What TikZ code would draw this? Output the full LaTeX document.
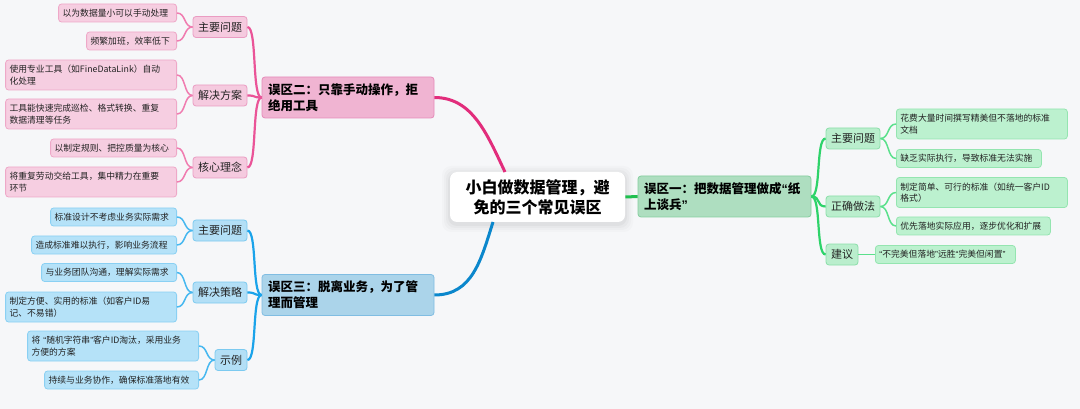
\documentclass[tikz,border=0pt]{standalone}
\usepackage{fontspec}
\setmainfont{Noto Sans CJK SC}
\newfontfamily\qfont{Liberation Sans}
\newcommand\myqo{{\qfont “}}
\newcommand\myqc{{\qfont ”}}
\definecolor{bgc}{HTML}{F6F7F9}
\definecolor{txt}{HTML}{222222}
% pink
\definecolor{pline}{HTML}{E22D7C}
\definecolor{pline2}{HTML}{EA5498}
\definecolor{pline3}{HTML}{F07CB0}
\definecolor{pmfill}{HTML}{F0B4D2}
\definecolor{pmdraw}{HTML}{E58BB9}
\definecolor{psfill}{HTML}{F5CADF}
\definecolor{psdraw}{HTML}{EA9CC2}
\definecolor{plfill}{HTML}{F6CEE1}
\definecolor{pldraw}{HTML}{EEA8C8}
% blue
\definecolor{bline}{HTML}{0B87CC}
\definecolor{bline2}{HTML}{1AA3EA}
\definecolor{bline3}{HTML}{47B8F0}
\definecolor{bmfill}{HTML}{ABD4EA}
\definecolor{bmdraw}{HTML}{80BDE2}
\definecolor{bsfill}{HTML}{B3DFF6}
\definecolor{bsdraw}{HTML}{7CCAF0}
\definecolor{blfill}{HTML}{B5E2F8}
\definecolor{bldraw}{HTML}{8AD0F3}
% green
\definecolor{gline}{HTML}{1FBF4F}
\definecolor{gline2}{HTML}{2ED36A}
\definecolor{gline3}{HTML}{5BE08C}
\definecolor{gmfill}{HTML}{AEDEC0}
\definecolor{gmdraw}{HTML}{84CE9E}
\definecolor{gsfill}{HTML}{BAEECD}
\definecolor{gsdraw}{HTML}{8ADFA9}
\definecolor{glfill}{HTML}{BCF1CF}
\definecolor{gldraw}{HTML}{94E5B0}
\tikzset{
  box/.style={rectangle, rounded corners=3pt, line width=0.8pt, text=txt, inner sep=0pt},
  centerbox/.style={box, fill=white, rounded corners=7pt, draw=none, minimum width=175pt, minimum height=50pt,
     font=\fontsize{16}{20}\selectfont\bfseries, align=center, text=black},
  mainbox/.style={box, minimum height=41pt, font=\fontsize{12.5}{16}\selectfont\bfseries, align=left, text=black},
  subbox/.style={box, minimum height=21pt, font=\fontsize{11}{13}\selectfont, align=center},
  leafbox/.style={box, minimum height=18pt, font=\fontsize{8.8}{11.5}\selectfont, align=left, text=txt},
  pm/.style={mainbox, fill=pmfill, draw=pmdraw},
  ps/.style={subbox, fill=psfill, draw=psdraw},
  pl/.style={leafbox, fill=plfill, draw=pldraw},
  bm/.style={mainbox, fill=bmfill, draw=bmdraw},
  bs/.style={subbox, fill=bsfill, draw=bsdraw},
  bl/.style={leafbox, fill=blfill, draw=bldraw},
  gm/.style={mainbox, fill=gmfill, draw=gmdraw},
  gs/.style={subbox, fill=gsfill, draw=gsdraw},
  gl/.style={leafbox, fill=glfill, draw=gldraw},
  c1/.style={line width=3pt},
  c2/.style={line width=2.2pt},
  c3/.style={line width=1.5pt},
}
\begin{document}
\begin{tikzpicture}[x=1pt,y=-1pt]
\useasboundingbox (0,0) rectangle (1080,409);
\fill[bgc] (0,0) rectangle (1080,409);
% soft shadow under the centre box
\foreach \i/\o in {8/0.015,6/0.02,4/0.025,2/0.03}{
  \fill[black,opacity=\o,rounded corners=9pt] (450-\i,172-\i+2) rectangle (625+\i,222+\i+2);
}
% centre
\node[centerbox] (c) at (537.5,197) {小白做数据管理，避\\免的三个常见误区};
\coordinate (cp) at (505,172);
\coordinate (cb) at (493,222);

% main branches
\node[pm, minimum width=172pt, text width=160pt] (pmain) at (348,97.5) {误区二：只靠手动操作，拒\\绝用工具};
\node[bm, minimum width=172pt, text width=160pt] (bmain) at (348,295) {误区三：脱离业务，为了管\\理而管理};
\node[gm, minimum width=173pt, text width=161pt] (gmain) at (724.5,196.5) {误区一：把数据管理做成\myqo 纸\\上谈兵\myqc};

% pink subs
\node[ps, minimum width=54pt] (p1) at (220,27) {主要问题};
\node[ps, minimum width=54pt] (p2) at (220,95.5) {解决方案};
\node[ps, minimum width=54pt] (p3) at (220,167.5) {核心理念};
% pink leaves
\node[pl, anchor=east, minimum width=118pt, text width=110pt] (p1a) at (177,13) {以为数据量小可以手动处理};
\node[pl, anchor=east, minimum width=90pt, text width=82pt] (p1b) at (177,41) {频繁加班，效率低下};
\node[pl, anchor=east, minimum width=171pt, minimum height=30pt, text width=163pt] (p2a) at (177,75) {使用专业工具（如FineDataLink）自动\\化处理};
\node[pl, anchor=east, minimum width=171pt, minimum height=30pt, text width=163pt] (p2b) at (177,114) {工具能快速完成巡检、格式转换、重复\\数据清理等任务};
\node[pl, anchor=east, minimum width=126pt, text width=118pt] (p3a) at (177,148) {以制定规则、把控质量为核心};
\node[pl, anchor=east, minimum width=171pt, minimum height=30pt, text width=163pt] (p3b) at (177,182) {将重复劳动交给工具，集中精力在重要\\环节};

% blue subs
\node[bs, minimum width=54pt] (b1) at (220,230.5) {主要问题};
\node[bs, minimum width=54pt] (b2) at (220,292.5) {解决策略};
\node[bs, minimum width=32pt] (b3) at (231,360) {示例};
% blue leaves
\node[bl, anchor=east, minimum width=126pt, text width=118pt] (b1a) at (177,217) {标准设计不考虑业务实际需求};
\node[bl, anchor=east, minimum width=145pt, text width=137pt] (b1b) at (177,245) {造成标准难以执行，影响业务流程};
\node[bl, anchor=east, minimum width=135pt, text width=127pt] (b2a) at (177,272.5) {与业务团队沟通，理解实际需求};
\node[bl, anchor=east, minimum width=171pt, minimum height=30pt, text width=163pt] (b2b) at (177,307) {制定方便、实用的标准（如客户ID易\\记、不易错）};
\node[bl, anchor=east, minimum width=171pt, minimum height=30pt, text width=163pt] (b3a) at (199,346) {将 \myqo 随机字符串\myqc 客户ID淘汰，采用业务\\方便的方案};
\node[bl, anchor=east, minimum width=154pt, text width=146pt] (b3b) at (199,380) {持续与业务协作，确保标准落地有效};

% green subs
\node[gs, minimum width=54pt] (g1) at (853,138.5) {主要问题};
\node[gs, minimum width=54pt] (g2) at (853,206.5) {正确做法};
\node[gs, minimum width=32pt] (g3) at (842,254.5) {建议};
% green leaves
\node[gl, anchor=west, minimum width=171pt, minimum height=30pt, text width=163pt] (g1a) at (896,124) {花费大量时间撰写精美但不落地的标准\\文档};
\node[gl, anchor=west, minimum width=145pt, text width=137pt] (g1b) at (896,158.5) {缺乏实际执行，导致标准无法实施};
\node[gl, anchor=west, minimum width=171pt, minimum height=30pt, text width=163pt] (g2a) at (896,192.5) {制定简单、可行的标准（如统一客户ID\\格式）};
\node[gl, anchor=west, minimum width=154pt, text width=146pt] (g2b) at (896,226) {优先落地实际应用，逐步优化和扩展};
\node[gl, anchor=west, minimum width=140pt, text width=132pt] (g3a) at (875,254.5) {\myqo 不完美但落地\myqc 远胜\myqo 完美但闲置\myqc};

% connectors: centre to main
\draw[pline, c1] (pmain.east) .. controls +(38,0) and +(-18,-38) .. (cp);
\draw[bline, c1] (bmain.east) .. controls +(38,0) and +(-12,38) .. (cb);
\draw[gline, c1] (c.east) -- (gmain.west);

% main to subs
\foreach \s in {p1,p2,p3}{
  \draw[pline2, c2] (pmain.west) .. controls +(-10,0) and +(10,0) .. (\s.east);
}
\foreach \s in {b1,b2,b3}{
  \draw[bline2, c2] (bmain.west) .. controls +(-10,0) and +(10,0) .. (\s.east);
}
\foreach \s in {g1,g2,g3}{
  \draw[gline2, c2] (gmain.east) .. controls +(10,0) and +(-10,0) .. (\s.west);
}

% subs to leaves
\foreach \s/\l in {p1/p1a,p1/p1b,p2/p2a,p2/p2b,p3/p3a,p3/p3b}{
  \draw[pline3, c3] (\s.west) .. controls +(-9,0) and +(9,0) .. (\l.east);
}
\foreach \s/\l in {b1/b1a,b1/b1b,b2/b2a,b2/b2b,b3/b3a,b3/b3b}{
  \draw[bline3, c3] (\s.west) .. controls +(-9,0) and +(9,0) .. (\l.east);
}
\foreach \s/\l in {g1/g1a,g1/g1b,g2/g2a,g2/g2b}{
  \draw[gline3, c3] (\s.east) .. controls +(9,0) and +(-9,0) .. (\l.west);
}
\draw[gline3, c3] (g3.east) -- (g3a.west);
\end{tikzpicture}
\end{document}
